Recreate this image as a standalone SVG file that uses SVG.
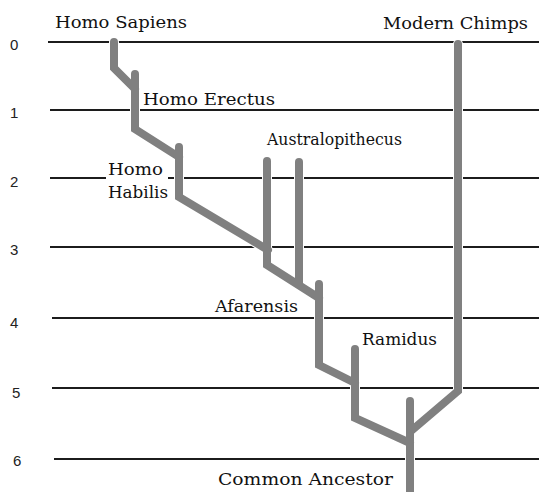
<svg xmlns="http://www.w3.org/2000/svg" width="539" height="492" viewBox="0 0 539 492">
  <style>
    .grid { stroke: #1c1c1c; stroke-width: 2; fill: none; }
    .tick { font-family: "Liberation Sans", Arial, sans-serif; font-size: 15px; fill: #222; }
    .label { font-family: "DejaVu Serif", "Liberation Serif", serif; font-size: 17px; fill: #111; }
    .halo { stroke: #ffffff; stroke-width: 10; fill: none; stroke-linecap: round; stroke-linejoin: miter; }
    .branch { stroke: #808080; stroke-width: 8; fill: none; stroke-linecap: round; stroke-linejoin: miter; }
  </style>
  <defs>
    <path id="b-sapiens" d="M114,42 V68 L135,89"/>
    <path id="b-erectus" d="M135,74 V129 L179,157"/>
    <path id="b-habilis" d="M179,147 V197 L268,250"/>
    <path id="b-austro1" d="M267,161 V265 L319,298"/>
    <path id="b-austro2" d="M299,162 V284"/>
    <path id="b-afarensis" d="M319,284 V365 L355,383"/>
    <path id="b-ramidus" d="M355,349 V418 L410,443"/>
    <path id="b-common" d="M410,401 V500"/>
    <path id="b-chimps" d="M458,44 V391 L411,431"/>
  </defs>
  <rect width="539" height="492" fill="#ffffff"/>

  <!-- time axis: millions of years ago -->
  <g id="axis">
    <line class="grid" x1="48" y1="42" x2="539" y2="42"/>
    <line class="grid" x1="50" y1="110" x2="539" y2="110"/>
    <line class="grid" x1="50" y1="178" x2="539" y2="178"/>
    <line class="grid" x1="50" y1="247" x2="539" y2="247"/>
    <line class="grid" x1="52" y1="318" x2="539" y2="318"/>
    <line class="grid" x1="52" y1="388" x2="539" y2="388"/>
    <line class="grid" x1="54" y1="459" x2="539" y2="459"/>
    <text class="tick" x="10" y="50">0</text>
    <text class="tick" x="10" y="118">1</text>
    <text class="tick" x="10" y="187">2</text>
    <text class="tick" x="10" y="255">3</text>
    <text class="tick" x="10" y="328">4</text>
    <text class="tick" x="12" y="398">5</text>
    <text class="tick" x="13" y="466">6</text>
  </g>

  <!-- lineage branches -->
  <g id="connectors">
    <use href="#b-sapiens" class="halo"/>
    <use href="#b-erectus" class="halo"/>
    <use href="#b-habilis" class="halo"/>
    <use href="#b-austro1" class="halo"/>
    <use href="#b-austro2" class="halo"/>
    <use href="#b-afarensis" class="halo"/>
    <use href="#b-ramidus" class="halo"/>
    <use href="#b-common" class="halo"/>
    <use href="#b-chimps" class="halo"/>
    <use href="#b-sapiens" class="branch"/>
    <use href="#b-erectus" class="branch"/>
    <use href="#b-habilis" class="branch"/>
    <use href="#b-austro1" class="branch"/>
    <use href="#b-austro2" class="branch"/>
    <use href="#b-afarensis" class="branch"/>
    <use href="#b-ramidus" class="branch"/>
    <use href="#b-common" class="branch"/>
    <use href="#b-chimps" class="branch"/>
  </g>

  <!-- species labels -->
  <g id="homo-sapiens">
    <text class="label" x="55" y="28" textLength="132" lengthAdjust="spacingAndGlyphs">Homo Sapiens</text>
  </g>
  <g id="modern-chimps">
    <text class="label" x="383" y="29" textLength="145" lengthAdjust="spacingAndGlyphs">Modern Chimps</text>
  </g>
  <g id="homo-erectus">
    <text class="label" x="143" y="105" textLength="132" lengthAdjust="spacingAndGlyphs">Homo Erectus</text>
  </g>
  <g id="homo-habilis">
    <rect x="106" y="158" width="62" height="44" fill="#ffffff"/>
    <text class="label" x="108" y="175" textLength="55" lengthAdjust="spacingAndGlyphs">Homo</text>
    <text class="label" x="108" y="198" textLength="60" lengthAdjust="spacingAndGlyphs">Habilis</text>
  </g>
  <g id="australopithecus">
    <text class="label" x="267" y="145" textLength="135" lengthAdjust="spacingAndGlyphs">Australopithecus</text>
  </g>
  <g id="afarensis">
    <text class="label" x="215" y="312" textLength="83" lengthAdjust="spacingAndGlyphs">Afarensis</text>
  </g>
  <g id="ramidus">
    <text class="label" x="362" y="345" textLength="75" lengthAdjust="spacingAndGlyphs">Ramidus</text>
  </g>
  <g id="common-ancestor">
    <text class="label" x="218" y="485" textLength="175" lengthAdjust="spacingAndGlyphs">Common Ancestor</text>
  </g>
</svg>
